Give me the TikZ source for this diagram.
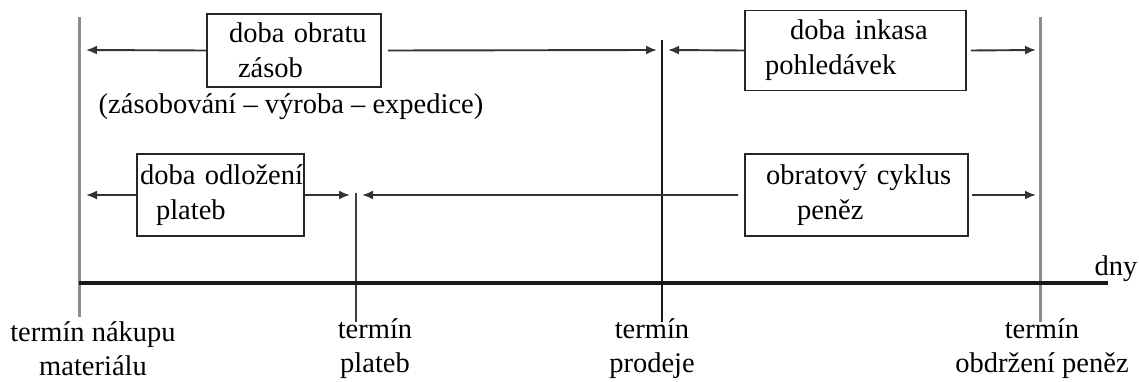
\documentclass[tikz,border=0pt]{standalone}
\usepackage{fontspec}
\setmainfont{Liberation Serif}
\usetikzlibrary{arrows.meta,calc}

\begin{document}
\begin{tikzpicture}[x=1pt,y=-1pt]
\tikzstyle{txt}=[font=\fontsize{28.5}{35}\selectfont]
\tikzstyle{box}=[txt,draw=black!85,line width=1.8pt,inner xsep=0pt,inner ysep=0pt,align=left]
\tikzstyle{arr}=[-{Latex[length=11pt,width=9pt]},line width=1.9pt,draw=black!80]
\tikzstyle{term}=[font=\fontsize{28.5}{34}\selectfont,align=center,inner sep=0pt]
\useasboundingbox (0,0) rectangle (1139,382);
% terminy na ose
\coordinate (nakup) at (79,17);    \coordinate (nakupD) at (79,317);
\coordinate (platby) at (356,193); \coordinate (platbyD) at (356,322);
\coordinate (prodej) at (662,40);  \coordinate (prodejD) at (662,322);
\coordinate (penize) at (1040,17); \coordinate (penizeD) at (1040,322);
\coordinate (osaA) at (79,283);    \coordinate (osaB) at (1108,283);
\draw[black!45,line width=3pt] (nakup) -- (nakupD);
\draw[black!75,line width=2.2pt] (platby) -- (platbyD);
\draw[black!90,line width=2.2pt] (prodej) -- (prodejD);
\draw[black!45,line width=3pt] (penize) -- (penizeD);
\draw[black!90,line width=4pt] (osaA) -- (osaB);
\node[txt,anchor=base] (dny) at (1116,275) {dny};
% hroty sipek
\coordinate (t1a) at (86,50);   \coordinate (t1b) at (657,50);
\coordinate (t1c) at (668,50);  \coordinate (t1d) at (1036,50);
\coordinate (t2a) at (86,195);  \coordinate (t2b) at (350,195);
\coordinate (t2c) at (362,195); \coordinate (t2d) at (1036,195);
% boxy
\node[box,text width=174pt,minimum height=73pt] (obrat) at (294,50.5)
  {\hspace*{22pt}doba obratu\\\hspace*{31pt}zásob};
\node[box,text width=221pt,minimum height=80pt] (inkaso) at (855.5,50.5)
  {\hspace*{45pt}doba inkasa\\\hspace*{20pt}pohledávek};
\node[box,text width=167pt,minimum height=82pt] (odlozeni) at (220.5,195)
  {\hspace*{3pt}doba odložení\\\hspace*{19pt}plateb};
\node[box,text width=223pt,minimum height=82pt] (cyklus) at (856.5,195)
  {\hspace*{21pt}obratový cyklus\\\hspace*{52pt}peněz};
\node[txt] (faze) at (291,107) {(zásobování -- výroba -- expedice)};
% sipky
\draw[arr] (obrat.west) -- (t1a);
\draw[arr] ([xshift=6pt]obrat.east) -- (t1b);
\draw[arr] (inkaso.west) -- (t1c);
\draw[arr] ([xshift=4pt]inkaso.east) -- (t1d);
\draw[arr] (odlozeni.west) -- (t2a);
\draw[arr] (odlozeni.east) -- (t2b);
\draw[arr] ([xshift=-6pt]cyklus.west) -- (t2c);
\draw[arr] ([xshift=3pt]cyklus.east) -- (t2d);
% popisky terminu
\node[term] (lnakup) at (93,349) {termín nákupu\\materiálu};
\node[term] (lplatby) at (375,349) {termín\\plateb};
\node[term] (lprodej) at (652,349) {termín\\prodeje};
\node[term] (lpenize) at (1042,349) {termín\\obdržení peněz};
\end{tikzpicture}
\end{document}
